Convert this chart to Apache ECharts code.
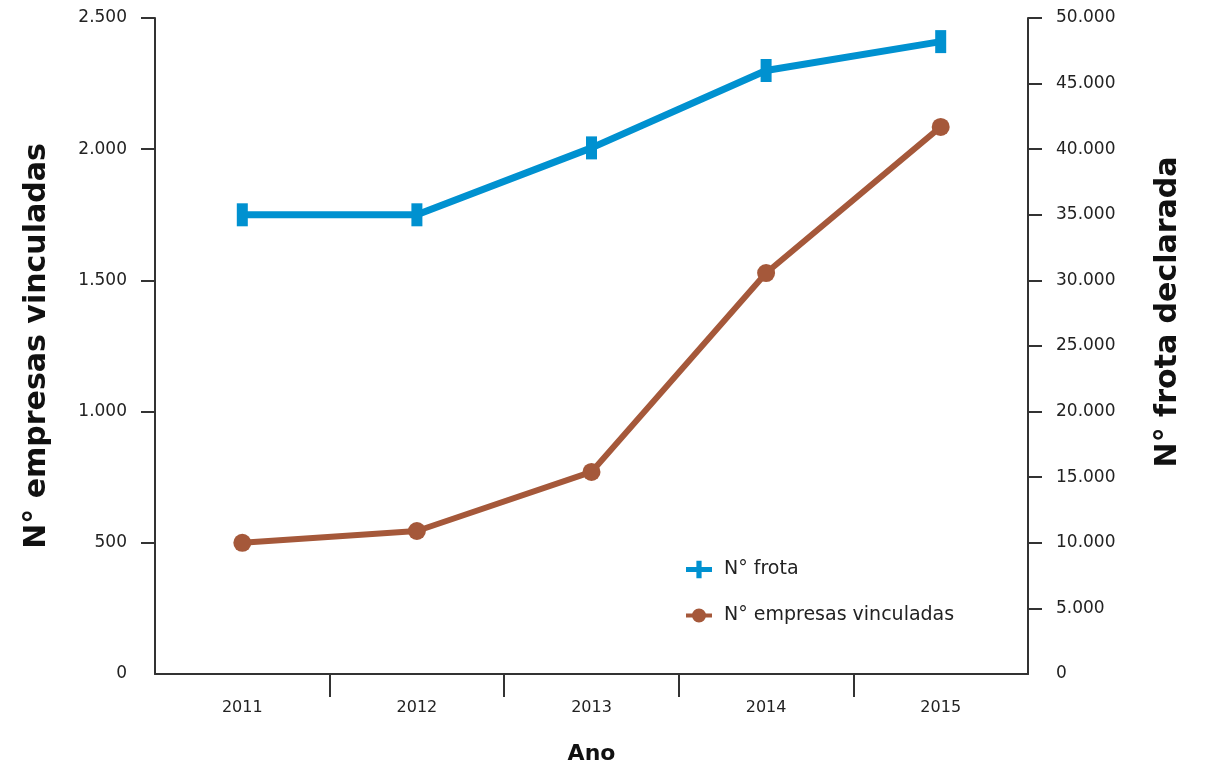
<!DOCTYPE html>
<html>
<head>
<meta charset="utf-8">
<script src="https://cdn.jsdelivr.net/npm/echarts@6/dist/echarts.min.js"></script>
<style>
  html, body { margin: 0; padding: 0; background: #fff; }
  #chart { width: 1210px; height: 766px; }
</style>
</head>
<body>
<div id="chart"></div>
<script>
// Years on the category axis
const anos = ['2011', '2012', '2013', '2014', '2015'];
// Declared fleet (right axis)
const frota = [35000, 35000, 40100, 46000, 48200];
// Linked companies (left axis)
const empresas = [500, 545, 770, 1528, 2085];
// Axis tick values
const ticksEmpresas = [0, 500, 1000, 1500, 2000, 2500];
const ticksFrota = [0, 5000, 10000, 15000, 20000, 25000, 30000, 35000, 40000, 45000, 50000];

const AZUL = '#0091D0';
const MARROM = '#A5583A';
const TEXTO = '#222';
const LINHA = '#333';
const FONTE = '"DejaVu Sans", Verdana, sans-serif';

// Thousands separator with a dot
const fmt = v => String(v).replace(/\B(?=(\d{3})+(?!\d))/g, '.');

// Separators between the year bands (positions 1..n-1 on a 0..n scale)
const separadores = anos.slice(1).map((_, i) => i + 1);

// Legend icons: a cross for the fleet, a dot on a line for the companies
const iconeFrota = 'path://M0,6 L10,6 L10,0 L15,0 L15,6 L25,6 L25,11 L15,11 L15,17 L10,17 L10,11 L0,11 Z';
const iconeEmpresas = 'path://M0,7 L8,7 L8,11 L0,11 Z M18,7 L26,7 L26,11 L18,11 Z M6,9 A7,7 0 1,1 20,9 A7,7 0 1,1 6,9 Z';

const chart = echarts.init(document.getElementById('chart'), null, { renderer: 'canvas' });

chart.setOption({
  backgroundColor: '#fff',
  animation: false,
  textStyle: { fontFamily: FONTE },
  grid: { left: 155, right: 182, top: 18, bottom: 92, containLabel: false, outerBoundsMode: 'none' },
  legend: {
    orient: 'vertical',
    left: 681,
    top: 555,
    itemWidth: 26,
    itemHeight: 18,
    itemGap: 27,
    textStyle: { fontFamily: FONTE, fontSize: 19, color: TEXTO, padding: [0, 0, 0, 7] },
    data: [
      { name: 'N° frota', icon: iconeFrota, itemStyle: { color: AZUL } },
      { name: 'N° empresas vinculadas', icon: iconeEmpresas, itemStyle: { color: MARROM } }
    ]
  },
  xAxis: [
    {
      type: 'category',
      data: anos,
      boundaryGap: true,
      name: 'Ano',
      nameLocation: 'middle',
      nameGap: 69,
      nameTextStyle: { fontFamily: FONTE, fontSize: 22, fontWeight: 'bold', color: '#111' },
      axisLine: { show: true, lineStyle: { color: LINHA, width: 2 } },
      axisTick: { show: false },
      axisLabel: { fontFamily: FONTE, fontSize: 16, color: TEXTO, margin: 26 },
      splitLine: { show: false }
    },
    {
      type: 'value',
      position: 'bottom',
      min: 0,
      max: anos.length,
      interval: 1,
      axisLine: { show: false },
      axisLabel: { show: false },
      axisTick: { show: true, customValues: separadores, length: 23, lineStyle: { color: LINHA, width: 2 } },
      splitLine: { show: false }
    }
  ],
  yAxis: [
    {
      type: 'value',
      position: 'left',
      min: ticksEmpresas[0],
      max: ticksEmpresas[ticksEmpresas.length - 1],
      interval: 500,
      name: 'N° empresas vinculadas',
      nameLocation: 'middle',
      nameRotate: 90,
      nameGap: 103,
      nameTextStyle: { fontFamily: FONTE, fontSize: 30, fontWeight: 'bold', color: '#111' },
      axisLine: { show: true, lineStyle: { color: LINHA, width: 2 } },
      axisTick: { show: true, length: 14, customValues: ticksEmpresas.slice(1), lineStyle: { color: LINHA, width: 2 } },
      axisLabel: { fontFamily: FONTE, fontSize: 17, color: TEXTO, margin: 28, formatter: fmt },
      splitLine: { show: false }
    },
    {
      type: 'value',
      position: 'right',
      min: ticksFrota[0],
      max: ticksFrota[ticksFrota.length - 1],
      interval: 5000,
      name: 'N° frota declarada',
      nameLocation: 'middle',
      nameRotate: 90,
      nameGap: 125,
      nameTextStyle: { fontFamily: FONTE, fontSize: 30, fontWeight: 'bold', color: '#111', padding: [0, 0, 0, 68] },
      axisLine: { show: true, lineStyle: { color: LINHA, width: 2 } },
      axisTick: { show: true, length: 14, customValues: ticksFrota.slice(1), lineStyle: { color: LINHA, width: 2 } },
      axisLabel: { fontFamily: FONTE, fontSize: 17, color: TEXTO, margin: 28, formatter: fmt },
      splitLine: { show: false }
    }
  ],
  series: [
    {
      name: 'N° frota',
      type: 'line',
      xAxisIndex: 0,
      yAxisIndex: 1,
      data: frota,
      symbol: 'rect',
      symbolSize: [11, 23],
      showAllSymbol: true,
      lineStyle: { color: AZUL, width: 7 },
      itemStyle: { color: AZUL },
      z: 3
    },
    {
      name: 'N° empresas vinculadas',
      type: 'line',
      xAxisIndex: 0,
      yAxisIndex: 0,
      data: empresas,
      symbol: 'circle',
      symbolSize: 18,
      showAllSymbol: true,
      lineStyle: { color: MARROM, width: 6 },
      itemStyle: { color: MARROM },
      z: 2
    }
  ]
});
</script>
</body>
</html>
